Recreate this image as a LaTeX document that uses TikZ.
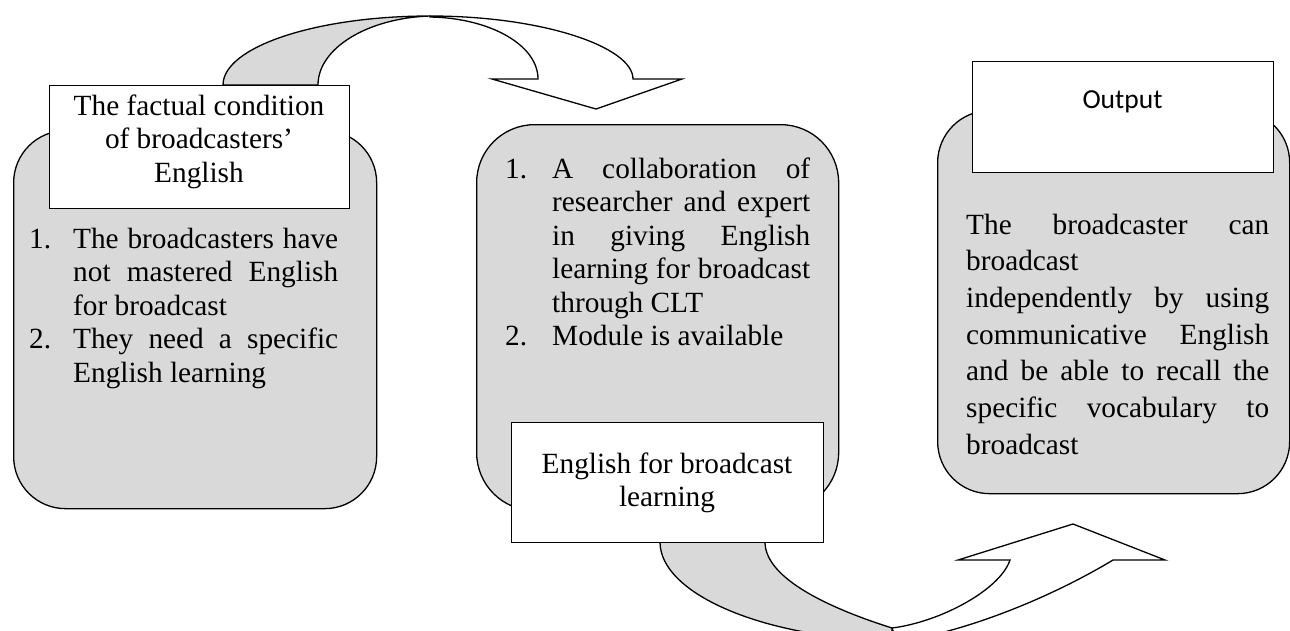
\documentclass[tikz,border=0pt]{standalone}
\usepackage{fontspec}
\setmainfont{Liberation Serif}
\newfontfamily\calfont{Carlito}
\definecolor{boxgray}{HTML}{D9D9D9}
\tikzset{
  graybox/.style={draw=black, fill=boxgray, line width=1.3pt, inner sep=0pt, anchor=north west},
  whitebox/.style={draw=black, fill=white, line width=1.3pt, inner sep=0pt, anchor=north west},
  arrowgray/.style={draw=black, fill=boxgray, line width=1.3pt, line join=round},
  arrowwhite/.style={draw=black, fill=white, line width=1.3pt, line join=miter},
  txt/.style={anchor=base west, inner sep=0pt, font=\fontsize{29.3pt}{33.5pt}\selectfont},
  ctxt/.style={anchor=base, inner sep=0pt, font=\fontsize{29.3pt}{33.5pt}\selectfont},
}
\begin{document}
\begin{tikzpicture}[x=1pt, y=-1pt]
\useasboundingbox (0,0) rectangle (1290,630);
\fill[white] (0,0) rectangle (1290,630);

% gray rounded boxes
\node[graybox, rounded corners=52pt, minimum width=363pt, minimum height=378pt] (lbox) at (13,130) {};
\node[graybox, rounded corners=58pt, minimum width=362pt, minimum height=386pt] (mbox) at (476,124) {};
\node[graybox, rounded corners=52pt, minimum width=352pt, minimum height=383pt] (rbox) at (937,110) {};

% top curved arrow
\draw[arrowgray] (223,85) .. controls (223,47) and (316,16) .. (430,16)
   .. controls (368,18) and (318,48) .. (318,85) -- cycle;
\draw[arrowwhite] (430,16) .. controls (543,16) and (633,47) .. (633,79)
   -- (682,79) -- (596,109) -- (492,79) -- (538,79)
   .. controls (538,45) and (490,18) .. (430,17) -- cycle;

% bottom curved arrow (its lowest part runs past the lower edge)
\coordinate (cusp) at (892,628);
\draw[arrowgray] (660,542) .. controls (660,593) and (760,636) .. (880,640)
   -- (893,650) -- (cusp)
   .. controls (835,610) and (765,580) .. (765,542) -- cycle;
\draw[arrowwhite] (cusp) .. controls (940,622) and (1000,590) .. (1010,560)
   -- (958,560) -- (1073,524) -- (1165,560) -- (1113,560)
   .. controls (1060,592) and (990,622) .. (928,636)
   -- (900,650) -- (cusp) -- cycle;

% white label boxes
\node[whitebox, minimum width=300pt, minimum height=123pt] (wb1) at (49,85) {};
\node[whitebox, minimum width=312pt, minimum height=120pt] (wb2) at (511,422) {};
\node[whitebox, minimum width=301pt, minimum height=111pt] (wb3) at (972,61) {};

% label texts
\node[ctxt] (t1) at (199,115) {\parbox[t]{300pt}{\centering The factual condition\\ of broadcasters’\\ English}};
\node[ctxt] (t2) at (667,473) {\parbox[t]{312pt}{\centering English for broadcast\\ learning}};
\node[anchor=base, inner sep=0pt, font=\calfont\fontsize{27.5pt}{33pt}\selectfont] (t3) at (1122.5,108) {Output};

% left list
\node[txt] (ltext) at (29,248) {\parbox[t]{309pt}{%
\makebox[44pt][l]{1.}\makebox[265pt][s]{The broadcasters have}\\
\hspace*{44pt}\makebox[265pt][s]{not mastered English}\\
\hspace*{44pt}for broadcast\\
\makebox[44pt][l]{2.}\makebox[265pt][s]{They need a specific}\\
\hspace*{44pt}English learning}};

% middle list
\node[txt] (mtext) at (505,178) {\parbox[t]{305pt}{%
\makebox[47pt][l]{1.}\makebox[258pt][s]{A collaboration of}\\
\hspace*{47pt}\makebox[258pt][s]{researcher and expert}\\
\hspace*{47pt}\makebox[258pt][s]{in giving English}\\
\hspace*{47pt}\makebox[258pt][s]{learning for broadcast}\\
\hspace*{47pt}through CLT\\
\makebox[47pt][l]{2.}Module is available}};

% right text
\node[txt, font=\fontsize{29.3pt}{36.7pt}\selectfont] (rtext) at (966,234) {\parbox[t]{303pt}{%
\makebox[303pt][s]{The broadcaster can}\\
broadcast\\
\makebox[303pt][s]{independently by using}\\
\makebox[303pt][s]{communicative English}\\
\makebox[303pt][s]{and be able to recall the}\\
\makebox[303pt][s]{specific vocabulary to}\\
broadcast}};
\end{tikzpicture}
\end{document}
